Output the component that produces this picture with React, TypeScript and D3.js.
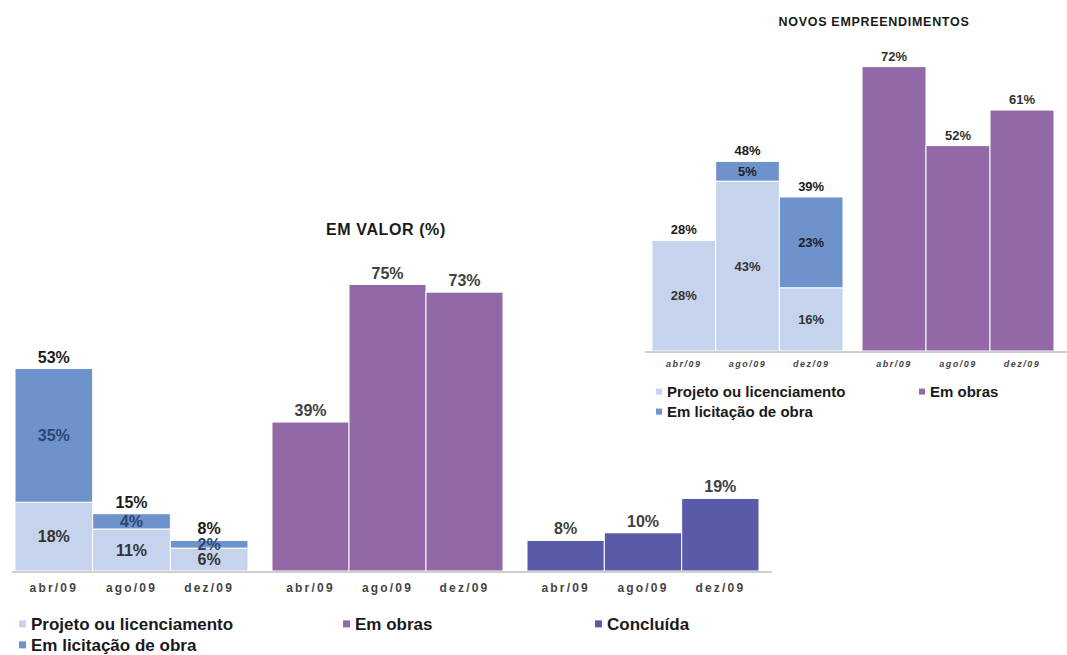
import React from "react";
import * as d3 from "d3";

const months = ["abr/09", "ago/09", "dez/09"];
const valorProjeto = [18, 11, 6];
const valorLicitacao = [35, 4, 2];
const valorObras = [39, 75, 73];
const valorConcluida = [8, 10, 19];
const novosProjeto = [28, 43, 16];
const novosLicitacao = [0, 5, 23];
const novosObras = [72, 52, 61];
const legendLabels = ["Projeto ou licenciamento", "Em licitação de obra", "Em obras", "Concluída"];
const titleValor = "EM VALOR (%)";
const titleNovos = "NOVOS EMPREENDIMENTOS";

const COL = { projeto: "#c5d3ec", licit: "#6d92cc", obras: "#9368a7", concl: "#5a5ba8" };
const FONT = "'Liberation Sans', Arial, sans-serif";

type Series = { values: number[]; color: string; labelColor: string };

function BarGroup(props: {
  range: [number, number];
  y: d3.ScaleLinear<number, number>;
  series: Series[];
  labelSize: number;
  totalColor: string;
  tickY: number;
  tickSize: number;
  tickSpacing: number;
  tickItalic?: boolean;
  stacked: boolean;
}) {
  const { range, y, series, labelSize, totalColor, tickY, tickSize, tickSpacing, tickItalic, stacked } = props;
  const x = d3.scaleBand<string>().domain(months).range(range).paddingInner(0).paddingOuter(0);
  const rects: React.ReactNode[] = [];
  const labels: React.ReactNode[] = [];
  months.forEach((m, i) => {
    let cum = 0;
    const cx = (x(m) as number) + x.bandwidth() / 2;
    series.forEach((s, si) => {
      const v = s.values[i];
      if (v <= 0) return;
      const y0 = y(cum);
      const y1 = y(cum + v);
      rects.push(
        <rect key={`r${m}${si}`} x={x(m)} y={y1} width={x.bandwidth()} height={y0 - y1}
          fill={s.color} stroke="#ffffff" strokeWidth={1} />
      );
      if (stacked) {
        labels.push(
          <text key={`l${m}${si}`} x={cx} y={(y0 + y1) / 2} dy="0.36em" textAnchor="middle"
            fontSize={labelSize} fontWeight="bold" fill={s.labelColor}>{`${v}%`}</text>
        );
      }
      cum += v;
    });
    labels.push(
      <text key={`t${m}`} x={cx} y={y(cum) - 6} textAnchor="middle" fontSize={labelSize}
        fontWeight="bold" fill={totalColor}>{`${cum}%`}</text>
    );
    labels.push(
      <text key={`k${m}`} x={cx} y={tickY} textAnchor="middle" fontSize={tickSize}
        fontWeight="bold" fill="#444" letterSpacing={tickSpacing}
        fontStyle={tickItalic ? "italic" : "normal"}>{m}</text>
    );
  });
  return <g>{rects}{labels}</g>;
}

function LegendItem(props: { x: number; y: number; color: string; label: string; size: number; sq: number }) {
  const { x, y, color, label, size, sq } = props;
  return (
    <g>
      <rect x={x} y={y - size * 0.36 - sq / 2} width={sq} height={sq} fill={color} />
      <text x={x + sq + 5} y={y} fontSize={size} fontWeight="bold" fill="#1a1a1a">{label}</text>
    </g>
  );
}

export default function App() {
  const yLeft = d3.scaleLinear().domain([0, 100]).range([571, 571 - 382]);
  const yTop = d3.scaleLinear().domain([0, 100]).range([351, 351 - 395]);
  return (
    <svg width={1067} height={655} style={{ position: "absolute", left: 0, top: 0, background: "#fff" }}
      fontFamily={FONT}>
      <rect x={0} y={0} width={1067} height={655} fill="#fff" />
      {/* Left main chart */}
      <text x={386} y={235} textAnchor="middle" fontSize={16} fontWeight="bold" fill="#1a1a1a"
        letterSpacing={0.6}>{titleValor}</text>
      <BarGroup range={[15, 248]} y={yLeft} stacked labelSize={16} totalColor="#1a1a1a" tickY={592}
        tickSize={12} tickSpacing={2.2}
        series={[
          { values: valorProjeto, color: COL.projeto, labelColor: "#333" },
          { values: valorLicitacao, color: COL.licit, labelColor: "#2e4570" },
        ]} />
      <BarGroup range={[272, 503]} y={yLeft} stacked={false} labelSize={16} totalColor="#404040" tickY={592}
        tickSize={12} tickSpacing={2.2}
        series={[{ values: valorObras, color: COL.obras, labelColor: "#333" }]} />
      <BarGroup range={[527, 759]} y={yLeft} stacked={false} labelSize={16} totalColor="#404040" tickY={592}
        tickSize={12} tickSpacing={2.2}
        series={[{ values: valorConcluida, color: COL.concl, labelColor: "#333" }]} />
      <line x1={12} x2={772} y1={yLeft(0) + 1} y2={yLeft(0) + 1} stroke="#cfcfcf" strokeWidth={2} />
      <LegendItem x={19} y={630} color={COL.projeto} label={legendLabels[0]} size={17} sq={7} />
      <LegendItem x={19} y={651} color={COL.licit} label={legendLabels[1]} size={17} sq={7} />
      <LegendItem x={343} y={630} color={COL.obras} label={legendLabels[2]} size={17} sq={7} />
      <LegendItem x={595} y={630} color={COL.concl} label={legendLabels[3]} size={17} sq={7} />

      {/* Top-right chart */}
      <text x={874} y={26} textAnchor="middle" fontSize={12.5} fontWeight="bold" fill="#1a1a1a"
        letterSpacing={0.7}>{titleNovos}</text>
      <BarGroup range={[652, 843]} y={yTop} stacked labelSize={13} totalColor="#1a1a1a" tickY={367}
        tickSize={9} tickSpacing={1.5} tickItalic
        series={[
          { values: novosProjeto, color: COL.projeto, labelColor: "#333" },
          { values: novosLicitacao, color: COL.licit, labelColor: "#222" },
        ]} />
      <BarGroup range={[862, 1054]} y={yTop} stacked={false} labelSize={13} totalColor="#333" tickY={367}
        tickSize={9} tickSpacing={1.5} tickItalic
        series={[{ values: novosObras, color: COL.obras, labelColor: "#333" }]} />
      <line x1={645} x2={1067} y1={yTop(0) + 1} y2={yTop(0) + 1} stroke="#cfcfcf" strokeWidth={2} />
      <LegendItem x={656} y={397} color={COL.projeto} label={legendLabels[0]} size={15} sq={6} />
      <LegendItem x={656} y={417} color={COL.licit} label={legendLabels[1]} size={15} sq={6} />
      <LegendItem x={919} y={397} color={COL.obras} label={legendLabels[2]} size={15} sq={6} />
    </svg>
  );
}
